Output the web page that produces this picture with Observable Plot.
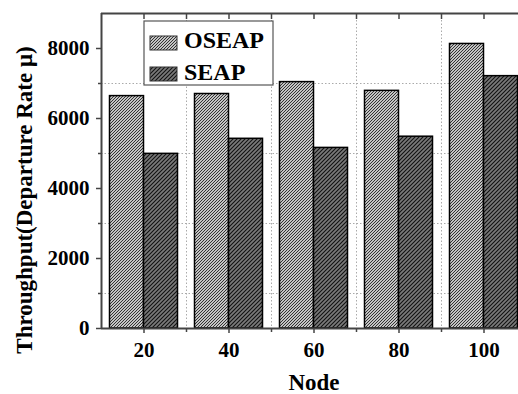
<!DOCTYPE html>
<html><head><meta charset="utf-8">
<script src="https://cdn.jsdelivr.net/npm/d3@7"></script>
<script src="https://cdn.jsdelivr.net/npm/@observablehq/plot@0.6"></script>
<style>body{margin:0;background:#fff;} #chart svg{overflow:hidden;display:block}</style>
</head><body><div id="chart"></div>
<script>
const nodes = [20, 40, 60, 80, 100];
const oseap = [6640, 6700, 7040, 6790, 8130];
const seap = [4990, 5420, 5160, 5480, 7210];
const series = ["OSEAP", "SEAP"];
const yTicks = [0, 2000, 4000, 6000, 8000];
const yMinor = [1000, 3000, 5000, 7000];
const xTicks = [20, 40, 60, 80, 100];
const xMinor = [30, 50, 70, 90];
const xTop = [20, 30, 40, 50, 60, 70, 80, 90, 100];
const yLabel = "Throughput(Departure Rate μ)";
const xLabel = "Node";

const rows = [];
nodes.forEach((n, i) => {
  rows.push({node: n, series: series[0], value: oseap[i]});
  rows.push({node: n, series: series[1], value: seap[i]});
});
const barW = 8; // bar width in node units
const patId = {OSEAP: "hatchO", SEAP: "hatchS"};

const font = "'Liberation Serif', 'Times New Roman', serif";
const axisColor = "#444";

const chart = Plot.plot({
  width: 518,
  height: 394,
  marginLeft: 101,
  marginTop: 13,
  marginBottom: 66,
  marginRight: 0,
  style: {fontFamily: font, fontWeight: "bold", fontSize: "21px", color: "black", background: "white"},
  x: {type: "linear", domain: [10, 110], range: [101, 526]},
  y: {domain: [0, 9000]},
  marks: [
    Plot.gridY(yMinor, {stroke: "#aaa", strokeOpacity: 1, strokeDasharray: "1.5,2"}),
    Plot.gridX(xMinor, {stroke: "#aaa", strokeOpacity: 1, strokeDasharray: "1.5,2"}),
    Plot.rectY(rows, {
      x1: d => d.series === series[0] ? d.node - barW : d.node,
      x2: d => d.series === series[0] ? d.node : d.node + barW,
      y: "value",
      fill: d => `url(#${patId[d.series]})`,
      stroke: "black",
      strokeWidth: 1.5
    }),
    Plot.ruleX([10], {stroke: axisColor, strokeWidth: 2}),
    Plot.ruleY([0], {stroke: axisColor, strokeWidth: 2}),
    Plot.ruleY([9000], {stroke: axisColor, strokeWidth: 2}),
    Plot.axisY(yTicks, {tickSize: 5, tickPadding: 7, fontSize: 21, fontWeight: "bold", label: null, stroke: axisColor, strokeWidth: 1.5, fill: "black", tickFormat: d => String(d)}),
    Plot.axisY(yMinor, {tickSize: 3, label: null, stroke: axisColor, strokeWidth: 1.5, tickFormat: () => ""}),
    Plot.axisX(xTicks, {tickSize: 5, tickPadding: 9, fontSize: 21, fontWeight: "bold", label: null, stroke: axisColor, strokeWidth: 1.5, fill: "black", tickFormat: d => String(d)}),
    Plot.axisX(xMinor, {tickSize: 4, label: null, stroke: axisColor, strokeWidth: 1.5, tickFormat: () => ""}),
    Plot.axisX(xTop, {anchor: "top", tickSize: 5, dy: 5, label: null, stroke: axisColor, strokeWidth: 1.5, tickFormat: () => ""}),
    Plot.text([yLabel], {frameAnchor: "left", rotate: -90, dx: -77, dy: 29, fontSize: 23, fontWeight: "bold", fill: "black", textAnchor: "middle", lineAnchor: "middle"}),
    Plot.text([xLabel], {frameAnchor: "bottom", dx: 4, dy: 61, fontSize: 23, fontWeight: "bold", fill: "black", textAnchor: "middle", lineAnchor: "bottom"})
  ]
});

const svg = d3.select(chart);
const defs = svg.insert("defs", ":first-child");
const pO = defs.append("pattern").attr("id", "hatchO").attr("patternUnits", "userSpaceOnUse").attr("width", 3).attr("height", 3);
pO.append("rect").attr("width", 3).attr("height", 3).attr("fill", "#c4c4c4");
pO.append("path").attr("d", "M-1,1L1,-1M0,3L3,0M2,4L4,2").attr("stroke", "#222").attr("stroke-width", 0.9);
const pS = defs.append("pattern").attr("id", "hatchS").attr("patternUnits", "userSpaceOnUse").attr("width", 4).attr("height", 4);
pS.append("rect").attr("width", 4).attr("height", 4).attr("fill", "#7a7a7a");
pS.append("path").attr("d", "M-1,1L1,-1M0,4L4,0M3,5L5,3").attr("stroke", "#111").attr("stroke-width", 1.1);

// legend
const lg = svg.append("g").attr("text-anchor", "start");
lg.append("rect").attr("x", 144).attr("y", 21).attr("width", 129).attr("height", 64)
  .attr("fill", "white").attr("stroke", "#555").attr("stroke-width", 1.2);
series.forEach((s, i) => {
  lg.append("rect").attr("x", 150).attr("y", 36 + i * 31).attr("width", 27).attr("height", 14)
    .attr("fill", `url(#${patId[s]})`).attr("stroke", "#333").attr("stroke-width", 1);
  lg.append("text").attr("x", 184).attr("y", 48 + i * 32).text(s)
    .style("font-size", "24px").style("font-weight", "bold").style("font-family", font)
    .style("text-anchor", "start").attr("fill", "black");
});

document.getElementById("chart").appendChild(chart);
</script>
</body></html>
